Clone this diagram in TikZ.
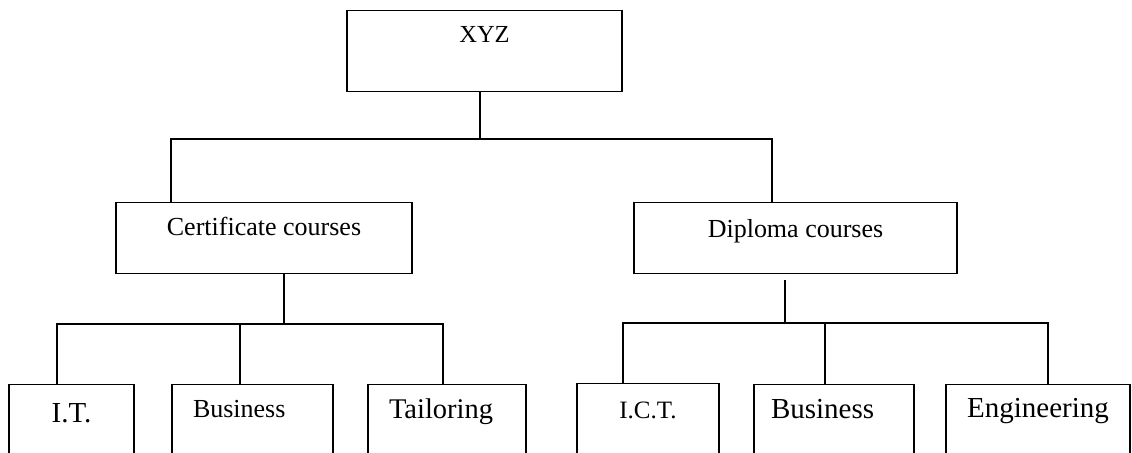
\documentclass[tikz,border=0pt]{standalone}
\usepackage{fontspec}
\setmainfont{Liberation Serif}
\newcommand{\fs}[1]{\fontsize{#1}{1.2\dimexpr#1\relax}\selectfont}
\tikzset{
  box/.style={draw, anchor=north, inner xsep=0pt, inner ysep=0pt},
  topbox/.style={box, text height=16.5pt, text depth=19pt, font=\fs{13pt}},
  lowbox/.style={box, text height=17pt, text depth=26pt, font=\fs{14.5pt}},
}
\begin{document}
\begin{tikzpicture}[x=.5pt, y=-.5pt, line width=.6pt]
  \useasboundingbox (0,0) rectangle (1132,453);
  \clip (0,0) rectangle (1132,453);
  % boxes
  \node[box, minimum width=137.5pt, text height=16pt, text depth=24.5pt, font=\fs{12.25pt}] (xyz) at (484.5,10) {XYZ};
  \node[topbox, minimum width=148pt] (cert) at (264,202) {Certificate courses};
  \node[topbox, minimum width=161.5pt, text height=17.5pt, text depth=18pt] (dip) at (795.5,202) {Diploma courses};
  \node[lowbox, minimum width=62.5pt, text height=19pt, text depth=24pt] (it) at (71.5,384) {I.T.};
  \node[lowbox, inner xsep=10.5pt, text width=59.5pt, align=left, font=\fs{13pt}, text height=16.5pt, text depth=26.5pt] (busa) at (252.5,384) {Business};
  \node[lowbox, inner xsep=10.5pt, text width=58pt, align=left, font=\fs{14.25pt}] (tail) at (447,384) {Tailoring};
  \node[lowbox, minimum width=71pt, text height=17.5pt, font=\fs{12.5pt}] (ict) at (648,383) {I.C.T.};
  \node[lowbox, inner xsep=8.5pt, text width=63pt, align=left] (busb) at (834,384) {Business};
  \node[lowbox, minimum width=92pt, text height=16.5pt, text depth=26.5pt] (eng) at (1038,384) {Engineering};
  % connectors
  \coordinate (hub) at (480,139);
  \coordinate (certhub) at (284,324);
  \coordinate (diphub) at (785,323);
  \draw (xyz.south -| hub) -- (hub);
  \draw (cert.north -| 171,0) |- (hub) -| (dip.north -| 772,0);
  \draw (cert.south -| certhub) -- (certhub);
  \draw (it.north -| 57,0) |- (certhub) -| (tail.north -| 443,0);
  \draw (busa.north -| 240,0) |- (certhub);
  \draw ([yshift=-3pt]dip.south -| diphub) -- (diphub);
  \draw (ict.north -| 623,0) |- (diphub) -| (eng.north -| 1048,0);
  \draw (busb.north -| 825,0) |- (diphub);
\end{tikzpicture}
\end{document}
